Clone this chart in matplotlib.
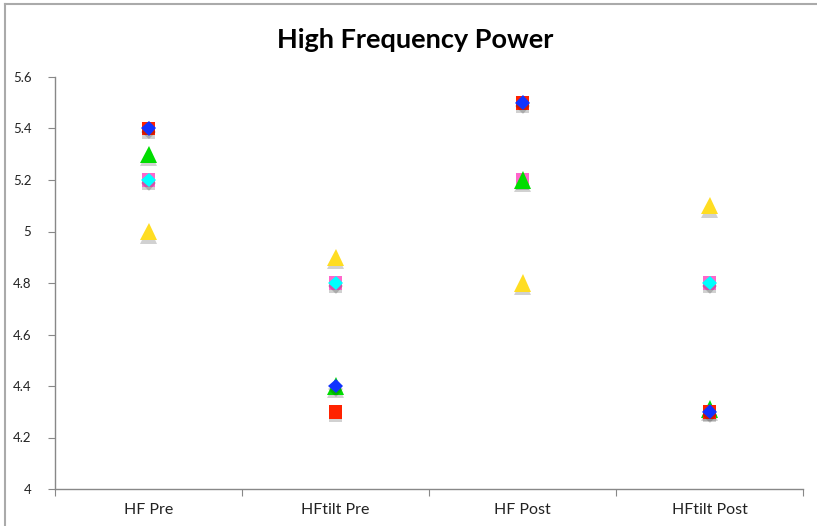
import matplotlib
matplotlib.use("Agg")
import matplotlib.pyplot as plt
import matplotlib.patheffects as pe
from matplotlib.lines import Line2D

nan = float("nan")
categories = ["HF Pre", "HFtilt Pre", "HF Post", "HFtilt Post"]
s_pink = [5.2, 4.8, 5.2, 4.8]
s_cyan = [5.2, 4.8, nan, 4.8]
s_green = [5.3, 4.4, 5.2, 4.31]
s_red = [5.4, 4.3, 5.5, 4.3]
s_blue = [5.4, 4.4, 5.5, 4.3]
s_yellow = [5.0, 4.9, 4.8, 5.1]

yticks = [4, 4.2, 4.4, 4.6, 4.8, 5, 5.2, 5.4, 5.6]
ytick_labels = ["4", "4.2", "4.4", "4.6", "4.8", "5", "5.2", "5.4", "5.6"]

fig = plt.figure(figsize=(8.17, 5.26), dpi=100)
ax = fig.add_axes([55/817, 37/526, 748/817, 412/526])

x = list(range(len(categories)))
shadow = [pe.SimplePatchShadow(offset=(0, -2.5), shadow_rgbFace="#000000", alpha=0.18), pe.Normal()]

series = [
    (s_pink, "s", "#ff66cc", 10),
    (s_cyan, "D", "#00ffff", 7.5),
    (s_green, "^", "#00dd00", 12.5),
    (s_red, "s", "#ff2200", 10),
    (s_blue, "D", "#1133ff", 7.5),
    (s_yellow, "^", "#ffdd22", 12.5),
]
for vals, m, c, ms in series:
    ax.plot(x, vals, linestyle="none", marker=m, markersize=ms, color=c,
            markeredgewidth=0, path_effects=shadow, zorder=3)

ax.set_xlim(-0.5, len(categories) - 0.5)
ax.set_ylim(4, 5.6)
ax.set_yticks(yticks)
ax.set_yticklabels(ytick_labels)
ax.set_xticks([i - 0.5 for i in range(len(categories) + 1)], minor=False)
ax.set_xticklabels([])
ax.set_xticks(x, minor=True)
ax.set_xticklabels(categories, minor=True)
ax.tick_params(axis="x", which="major", length=5, color="#888888", direction="out")
ax.tick_params(axis="x", which="minor", length=0, pad=10, labelsize=11.5, labelcolor="#222222")
ax.tick_params(axis="y", length=5, color="#888888", direction="out", labelsize=9.5, labelcolor="#222222", pad=12)
for lab in ax.get_xticklabels(minor=True) + ax.get_yticklabels():
    lab.set_family(["Lato", "DejaVu Sans"])

for s in ["top", "right"]:
    ax.spines[s].set_visible(False)
for s in ["left", "bottom"]:
    ax.spines[s].set_color("#888888")
    ax.spines[s].set_linewidth(1)

fig.text(415/817, 1 - 40/526, "High Frequency Power", ha="center", va="center",
         fontsize=19.5, fontweight="bold", family=["Lato", "DejaVu Sans"], color="#000000")

# chart border (top and left visible)
fig.add_artist(Line2D([5/817, 5/817], [0, 1 - 4/526], transform=fig.transFigure, color="#aaaaaa", lw=1.5))
fig.add_artist(Line2D([5/817, 1], [1 - 4/526, 1 - 4/526], transform=fig.transFigure, color="#aaaaaa", lw=1.5))

fig.savefig("out.png", dpi=100)
